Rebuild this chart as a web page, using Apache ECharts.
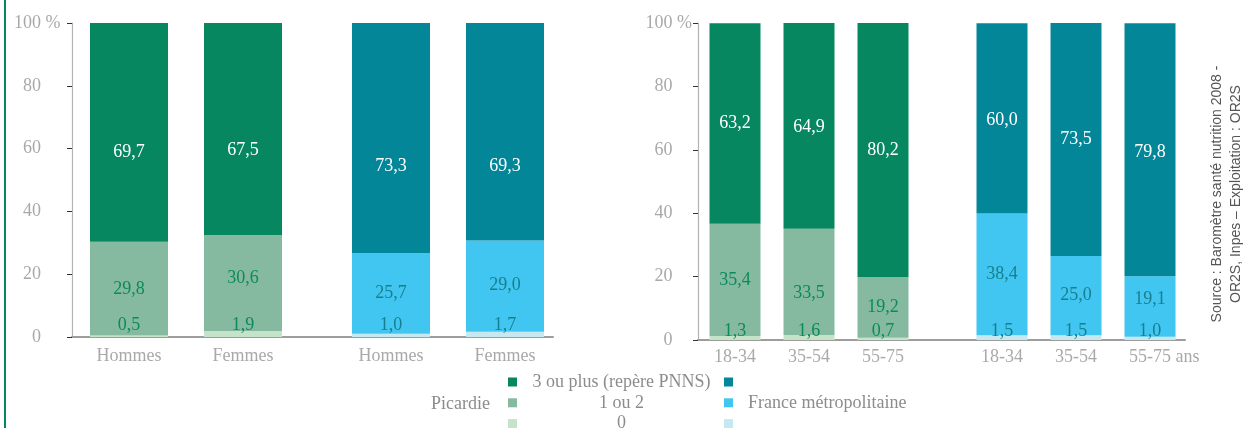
<!DOCTYPE html>
<html>
<head>
<meta charset="utf-8">
<script src="https://cdn.jsdelivr.net/npm/echarts@6/dist/echarts.min.js"></script>
<style>
  html, body { margin: 0; padding: 0; background: #fff; }
  #chart { width: 1244px; height: 428px; }
</style>
</head>
<body>
<div id="chart"></div>
<script>
// Categories
const sexCategories = ['Hommes', 'Femmes'];
const ageCategories = ['18-34', '35-54', '55-75'];
const ageUnit = ' ans';
const yMin = 0, yMax = 100, yStep = 20;
const yUnit = ' %';

// Legend / series names
const levelNames = ['3 ou plus (repère PNNS)', '1 ou 2', '0'];
const regionPicardie = 'Picardie';
const regionFrance = 'France métropolitaine';

// Picardie, by sex (%)
const picSex3 = [69.7, 67.5];
const picSex12 = [29.8, 30.6];
const picSex0 = [0.5, 1.9];
// France métropolitaine, by sex (%)
const fraSex3 = [73.3, 69.3];
const fraSex12 = [25.7, 29.0];
const fraSex0 = [1.0, 1.7];
// Picardie, by age (%)
const picAge3 = [63.2, 64.9, 80.2];
const picAge12 = [35.4, 33.5, 19.2];
const picAge0 = [1.3, 1.6, 0.7];
// France métropolitaine, by age (%)
const fraAge3 = [60.0, 73.5, 79.8];
const fraAge12 = [38.4, 25.0, 19.1];
const fraAge0 = [1.5, 1.5, 1.0];

const sourceLines = ['Source : Baromètre santé nutrition 2008 -', 'OR2S, Inpes – Exploitation : OR2S'];

// ---- styling ----
const SERIF = '"Liberation Serif", "Times New Roman", serif';
const GREY = '#a9a9a9';
const colPic = ['#07875f', '#85b9a0', '#c5e3c8'];
const colFra = ['#038798', '#41c6f1', '#c6e8f0'];
const lblPic = ['#ffffff', '#0d8a5c', '#0d8a5c'];
const lblFra = ['#ffffff', '#16808f', '#16808f'];
// vertical nudges for value labels (px)
const nudgeSex = { p3: [20, 21], p12: [1, -5], f3: [28, 34], f12: [0, -1] };
const nudgeAge = { p3: [0, 1, 0], p12: [0, 11, 0], f3: [2, 0, 2], f12: [0, 0, -7] };

const fmt = v => v.toFixed(1).replace('.', ',');
const franceNames = levelNames.map(n => regionFrance + ' – ' + n);

function bar(name, values, axisIdx, color, labelColor, width, nudges, bottom, bottomDist) {
  return {
    type: 'bar',
    name: name,
    xAxisIndex: axisIdx,
    yAxisIndex: axisIdx,
    stack: 's' + axisIdx,
    barWidth: width,
    itemStyle: { color: color },
    label: {
      show: true,
      position: bottom ? 'insideBottom' : 'inside',
      distance: bottomDist,
      color: labelColor,
      fontFamily: SERIF,
      fontSize: 18,
      formatter: p => fmt(p.value)
    },
    data: values.map((v, i) => ({ value: v, label: { offset: [0, nudges ? nudges[i] : 0] } }))
  };
}

function panelSeries(idx, v3, v12, v0, cols, lcols, names, width, nz3, nz12, bottomDist) {
  return [
    bar(names[2], v0, idx, cols[2], lcols[2], width, null, true, bottomDist),
    bar(names[1], v12, idx, cols[1], lcols[1], width, nz12, false),
    bar(names[0], v3, idx, cols[0], lcols[0], width, nz3, false)
  ];
}

const yLabelRich = {
  n: { fontFamily: SERIF, fontSize: 18, color: GREY },
  s: { fontFamily: SERIF, fontSize: 18, color: GREY, width: 19.5, align: 'left' }
};

function yAxis(gridIndex, show, margin) {
  return {
    type: 'value', gridIndex: gridIndex, min: yMin, max: yMax, interval: yStep,
    show: show,
    splitLine: { show: false },
    axisLine: { show: true, lineStyle: { color: '#b3b3b3', width: 1.2 } },
    axisTick: { show: true, length: 5, lineStyle: { color: '#333' } },
    axisLabel: {
      margin: margin, align: 'right',
      formatter: v => '{n|' + v + '}{s|' + (v === yMax ? yUnit : ' ') + '}',
      rich: yLabelRich
    }
  };
}

const xLabelRich = {
  n: { fontFamily: SERIF, fontSize: 18, color: GREY },
  p: { fontFamily: SERIF, fontSize: 18, width: 28.5 },
  s: { fontFamily: SERIF, fontSize: 18, color: GREY, width: 28.5, align: 'left' }
};

function xAxis(gridIndex, cats, margin, suffixLast) {
  return {
    type: 'category', gridIndex: gridIndex, data: cats,
    axisLine: { show: false }, axisTick: { show: false },
    axisLabel: {
      margin: margin, interval: 0,
      formatter: (v, i) => (suffixLast && i === cats.length - 1)
        ? '{p| }{n|' + v + '}{s|' + ageUnit + '}'
        : '{n|' + v + '}',
      rich: xLabelRich
    }
  };
}

function frameX(gridIndex) {
  return {
    type: 'category', gridIndex: gridIndex, data: [''],
    axisLine: { show: true, lineStyle: { color: '#9d9d9d', width: 2 } },
    axisTick: { show: false }, axisLabel: { show: false }
  };
}

const legendText = { fontFamily: SERIF, fontSize: 18, color: '#8c8c8c' };

const option = {
  animation: false,
  backgroundColor: '#ffffff',
  grid: [
    { left: 72, top: 23, width: 228, height: 314 },   // 0 Picardie by sex
    { left: 334, top: 23, width: 228, height: 314 },  // 1 France by sex
    { left: 698, top: 23, width: 222, height: 317 },  // 2 Picardie by age
    { left: 965, top: 23, width: 222, height: 317 },  // 3 France by age
    { left: 72, top: 23, width: 481, height: 314 },   // 4 baseline, left panel
    { left: 698, top: 23, width: 487, height: 317 }   // 5 baseline, right panel
  ],
  xAxis: [
    xAxis(0, sexCategories, 10),
    xAxis(1, sexCategories, 10),
    xAxis(2, ageCategories, 8),
    xAxis(3, ageCategories, 8, true),
    frameX(4),
    frameX(5)
  ],
  yAxis: [
    yAxis(0, true, 11.5),
    yAxis(1, false, 0),
    yAxis(2, true, 6),
    yAxis(3, false, 0),
    yAxis(4, false, 0),
    yAxis(5, false, 0)
  ],
  legend: [
    {
      orient: 'vertical', left: 508, top: 372, height: 90, width: 220, padding: 0,
      itemWidth: 9, itemHeight: 9, itemGap: 0.8, icon: 'rect',
      selectedMode: false,
      data: levelNames,
      textStyle: Object.assign({ lineHeight: 20, rich: { c: Object.assign({ width: 199, align: 'center', lineHeight: 20 }, legendText) } }, legendText),
      formatter: n => '{c|' + n + '}'
    },
    {
      orient: 'vertical', left: 724, top: 372, height: 90, width: 240, padding: 0,
      itemWidth: 9, itemHeight: 9, itemGap: 0.8, icon: 'rect',
      selectedMode: false,
      data: franceNames,
      textStyle: Object.assign({ lineHeight: 20, rich: { t: Object.assign({ padding: [0, 0, 0, 10], lineHeight: 20 }, legendText) } }, legendText),
      formatter: n => '{t|' + (n === franceNames[1] ? regionFrance : '\u00a0') + '}'
    }
  ],
  graphic: [
    { type: 'rect', left: 4, top: 0, shape: { width: 2, height: 428 }, style: { fill: '#07875f' } },
    { type: 'text', x: 490, y: 404,
      style: { text: regionPicardie, fill: '#8c8c8c', fontFamily: SERIF, fontSize: 18, align: 'right', verticalAlign: 'middle' } },
    { type: 'text', x: 1227, y: 194, rotation: Math.PI / 2,
      style: { text: sourceLines.join('\n'), fill: '#555555', fontFamily: '"Liberation Sans", Arial, sans-serif',
        fontSize: 14, lineHeight: 19, align: 'center', verticalAlign: 'middle' } }
  ],
  series: [].concat(
    panelSeries(0, picSex3, picSex12, picSex0, colPic, lblPic, levelNames, 78, nudgeSex.p3, nudgeSex.p12, 3),
    panelSeries(1, fraSex3, fraSex12, fraSex0, colFra, lblFra, franceNames, 78, nudgeSex.f3, nudgeSex.f12, 3),
    panelSeries(2, picAge3, picAge12, picAge0, colPic, lblPic, levelNames, 51, nudgeAge.p3, nudgeAge.p12, 0),
    panelSeries(3, fraAge3, fraAge12, fraAge0, colFra, lblFra, franceNames, 51, nudgeAge.f3, nudgeAge.f12, 0)
  )
};

const chart = echarts.init(document.getElementById('chart'), null, { renderer: 'canvas' });
chart.setOption(option);
</script>
</body>
</html>
